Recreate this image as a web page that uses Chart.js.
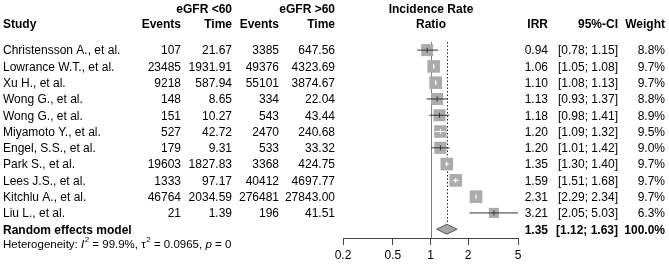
<!DOCTYPE html>
<html lang="en">
<head>
<meta charset="UTF-8">
<title>Forest plot - IRR eGFR</title>
<script src="https://cdn.jsdelivr.net/npm/chart.js"></script>
<style>
  body { margin: 0; background: #fff; }
</style>
</head>
<body>
<canvas id="forest" width="669" height="266"></canvas>
<script>
  // dados
  const studies = ["Christensson A., et al.", "Lowrance W.T., et al.", "Xu H., et al.", "Wong G., et al.",
    "Wong G., et al.", "Miyamoto Y., et al.", "Engel, S.S., et al.", "Park S., et al.", "Lees J.S., et al.",
    "Kitchlu A., et al.", "Liu L., et al."];
  const events60 = [107, 23485, 9218, 148, 151, 527, 179, 19603, 1333, 46764, 21];
  const time60 = [21.67, 1931.91, 587.94, 8.65, 10.27, 42.72, 9.31, 1827.83, 97.17, 2034.59, 1.39];
  const eventsOver = [3385, 49376, 55101, 334, 543, 2470, 533, 3368, 40412, 276481, 196];
  const timeOver = [647.56, 4323.69, 3874.67, 22.04, 43.44, 240.68, 33.32, 424.75, 4697.77, 27843.00, 41.51];
  const irr = [0.94, 1.06, 1.10, 1.13, 1.18, 1.20, 1.20, 1.35, 1.59, 2.31, 3.21];
  const ciLow = [0.78, 1.05, 1.08, 0.93, 0.98, 1.09, 1.01, 1.30, 1.51, 2.29, 2.05];
  const ciHigh = [1.15, 1.08, 1.13, 1.37, 1.41, 1.32, 1.42, 1.40, 1.68, 2.34, 5.03];
  const weight = [8.8, 9.7, 9.7, 8.8, 8.9, 9.5, 9.0, 9.7, 9.7, 9.7, 6.3];
  const pooled = [1.35, 1.12, 1.63]; // estimativa, inferior, superior
  const xTicks = [0.2, 0.5, 1, 2, 5];

  const FONT = "'Liberation Sans', Arial, sans-serif";
  const rows = studies.map((s, i) => i);
  const pooledRow = studies.length;

  // lado do quadrado proporcional a raiz do peso
  const sideOf = w => Math.sqrt(w) * 4.05;

  // IC dentro do quadrado -> branco (como no pacote meta)
  function ciColor(chart, i) {
    const x = chart.scales.x;
    const w = x.getPixelForValue(ciHigh[i]) - x.getPixelForValue(ciLow[i]);
    return w < sideOf(weight[i]) ? "#ffffff" : "#333333";
  }

  const ciSets = rows.map(i => ({
    type: "scatter",
    showLine: true,
    data: [{ x: ciLow[i], y: i }, { x: ciHigh[i], y: i }],
    borderColor: ctx => ciColor(ctx.chart, i),
    borderWidth: 1,
    pointRadius: 0,
    order: 1
  }));

  const tabela = {
    id: "tabela",
    beforeDatasetsDraw(chart) {
      const { ctx, chartArea } = chart;
      const x = chart.scales.x, y = chart.scales.y;
      const x1 = x.getPixelForValue(1), xp = x.getPixelForValue(pooled[0]);
      ctx.save();
      // linha de nulidade
      ctx.strokeStyle = "#808080";
      ctx.lineWidth = 1;
      ctx.beginPath();
      ctx.moveTo(Math.round(x1) + 0.5, chartArea.top);
      ctx.lineTo(Math.round(x1) + 0.5, chartArea.bottom);
      ctx.stroke();
      // linha pontilhada do efeito combinado
      ctx.strokeStyle = "#222";
      ctx.setLineDash([1.5, 2]);
      ctx.beginPath();
      ctx.moveTo(Math.round(xp) + 0.5, chartArea.top);
      ctx.lineTo(Math.round(xp) + 0.5, y.getPixelForValue(pooledRow));
      ctx.stroke();
      ctx.restore();
    },
    afterDatasetsDraw(chart) {
      const { ctx } = chart;
      const x = chart.scales.x, y = chart.scales.y;
      ctx.save();
      // diamante
      const yd = y.getPixelForValue(pooledRow);
      ctx.beginPath();
      ctx.moveTo(x.getPixelForValue(pooled[1]), yd);
      ctx.lineTo(x.getPixelForValue(pooled[0]), yd - 5);
      ctx.lineTo(x.getPixelForValue(pooled[2]), yd);
      ctx.lineTo(x.getPixelForValue(pooled[0]), yd + 5);
      ctx.closePath();
      ctx.fillStyle = "#a6a6a6";
      ctx.fill();
      ctx.strokeStyle = "#555";
      ctx.lineWidth = 1;
      ctx.stroke();

      ctx.fillStyle = "#000";
      ctx.textBaseline = "middle";
      const dy = 1; // ajuste vertical do texto
      const txt = (s, px, py, align, bold) => {
        ctx.font = (bold ? "bold " : "") + "12px " + FONT;
        ctx.textAlign = align;
        ctx.fillText(s, px, py + dy);
      };
      // cabecalho
      const h1 = y.getPixelForValue(-2.55), h2 = y.getPixelForValue(-1.62);
      txt("eGFR <60", 232, h1, "right", true);
      txt("eGFR >60", 335, h1, "right", true);
      txt("Incidence Rate", 431, h1, "center", true);
      txt("Study", 3, h2, "left", true);
      txt("Events", 181, h2, "right", true);
      txt("Time", 232, h2, "right", true);
      txt("Events", 279, h2, "right", true);
      txt("Time", 335, h2, "right", true);
      txt("Ratio", 431, h2, "center", true);
      txt("IRR", 548, h2, "right", true);
      txt("95%-CI", 618, h2, "right", true);
      txt("Weight", 665, h2, "right", true);
      // linhas
      rows.forEach(i => {
        const py = y.getPixelForValue(i);
        txt(studies[i], 3, py, "left");
        txt(String(events60[i]), 181, py, "right");
        txt(time60[i].toFixed(2), 232, py, "right");
        txt(String(eventsOver[i]), 279, py, "right");
        txt(timeOver[i].toFixed(2), 335, py, "right");
        txt(irr[i].toFixed(2), 548, py, "right");
        txt("[" + ciLow[i].toFixed(2) + "; " + ciHigh[i].toFixed(2) + "]", 618, py, "right");
        txt(weight[i].toFixed(1) + "%", 665, py, "right");
      });
      txt("Random effects model", 3, yd, "left", true);
      txt(pooled[0].toFixed(2), 548, yd, "right", true);
      txt("[" + pooled[1].toFixed(2) + "; " + pooled[2].toFixed(2) + "]", 618, yd, "right", true);
      txt("100.0%", 665, yd, "right", true);

      // heterogeneidade
      const yh = y.getPixelForValue(pooledRow + 0.92) + dy;
      const parts = [
        ["Heterogeneity: ", ""], ["I", "italic "], ["2", "sup"], [" = 99.9%, ", ""],
        ["\u03c4", ""], ["2", "sup"], [" = 0.0965, ", ""], ["p", "italic "], [" = 0", ""]
      ];
      let cx = 3;
      ctx.textAlign = "left";
      parts.forEach(([s, st]) => {
        if (st === "sup") {
          ctx.font = "8px " + FONT;
          ctx.fillText(s, cx + 0.5, yh - 5);
          cx += ctx.measureText(s).width + 0.5;
        } else {
          ctx.font = st + "11.5px " + FONT;
          ctx.fillText(s, cx, yh);
          cx += ctx.measureText(s).width;
        }
      });
      ctx.restore();
    }
  };

  new Chart(document.getElementById("forest"), {
    data: {
      datasets: [
        ...ciSets,
        {
          type: "scatter",
          data: rows.map(i => ({ x: irr[i], y: i })),
          pointStyle: "line",
          pointRotation: 90,
          pointRadius: 2.5,
          borderWidth: 1,
          pointBorderColor: ctx => ciColor(ctx.chart, ctx.dataIndex),
          order: 0
        },
        {
          type: "scatter",
          data: rows.map(i => ({ x: irr[i], y: i })),
          pointStyle: "rect",
          pointRadius: rows.map(i => sideOf(weight[i]) / Math.SQRT2),
          backgroundColor: "#ababab",
          borderColor: "#ababab",
          borderWidth: 0,
          order: 2
        }
      ]
    },
    options: {
      responsive: false,
      animation: false,
      events: [],
      layout: { padding: { left: 343, right: 151, top: 42, bottom: 0.6 } },
      plugins: { legend: { display: false }, tooltip: { enabled: false } },
      scales: {
        x: {
          type: "logarithmic",
          min: 0.2,
          max: 5,
          afterBuildTicks: axis => { axis.ticks = xTicks.map(v => ({ value: v })); },
          ticks: {
            color: "#000",
            padding: 3,
            maxRotation: 0,
            autoSkip: false,
            font: { family: FONT, size: 12 },
            callback: v => String(v)
          },
          grid: { drawOnChartArea: false, drawTicks: true, tickLength: 7, color: "#444", lineWidth: 1 },
          border: { display: true, color: "#444", width: 1 }
        },
        y: {
          type: "linear",
          display: false,
          reverse: true,
          min: -0.5,
          max: 11.54
        }
      }
    },
    plugins: [tabela]
  });
</script>
</body>
</html>
